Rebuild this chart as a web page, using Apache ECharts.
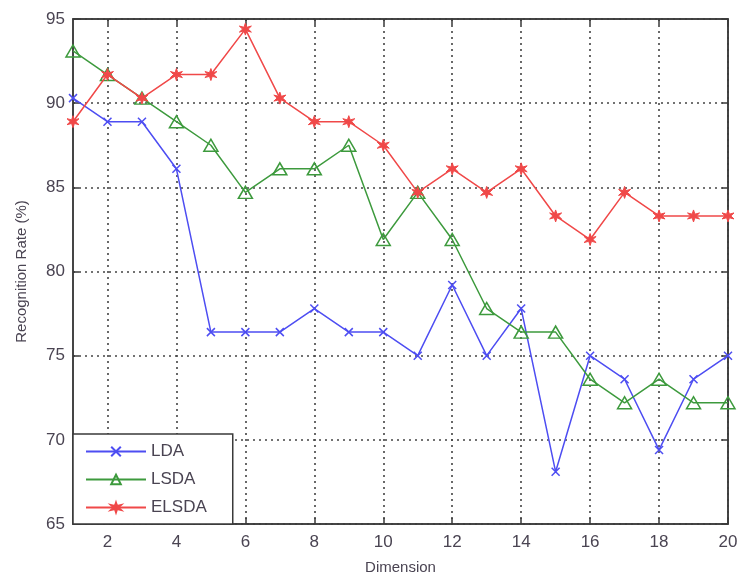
<!DOCTYPE html>
<html>
<head>
<meta charset="utf-8">
<script src="https://cdn.jsdelivr.net/npm/echarts@6/dist/echarts.min.js"></script>
<style>
  html, body { margin: 0; padding: 0; background: #fff; }
  #chart { width: 740px; height: 575px; }
</style>
</head>
<body>
<div id="chart"></div>
<script>
const dimensions = ["1", "2", "3", "4", "5", "6", "7", "8", "9", "10",
  "11", "12", "13", "14", "15", "16", "17", "18", "19", "20"];

const ldaValues = [90.3, 88.9, 88.9, 86.1, 76.4, 76.4, 76.4, 77.8, 76.4, 76.4,
  75.0, 79.2, 75.0, 77.8, 68.1, 75.0, 73.6, 69.4, 73.6, 75.0];
const lsdaValues = [93.1, 91.7, 90.3, 88.9, 87.5, 84.7, 86.1, 86.1, 87.5, 81.9,
  84.7, 81.9, 77.8, 76.4, 76.4, 73.6, 72.2, 73.6, 72.2, 72.2];
const elsdaValues = [88.9, 91.7, 90.3, 91.7, 91.7, 94.4, 90.3, 88.9, 88.9, 87.5,
  84.7, 86.1, 84.7, 86.1, 83.3, 81.9, 84.7, 83.3, 83.3, 83.3];

const Y_MIN = 65;
const Y_MAX = 95;
const Y_STEP = 5;

const BLUE = "#4d4df2";
const GREEN = "#3d9a3d";
const RED = "#f04848";
const FRAME = "#3a3a3a";
const TEXT = "#4a4452";

// only even dimensions get a label, tick and grid line
const evenOnly = (index) => index % 2 === 1;

const gridDots = { type: [2, 4], color: "#444", width: 1.6 };

const chart = echarts.init(document.getElementById("chart"), null, { renderer: "canvas" });

chart.setOption({
  backgroundColor: "#fff",
  animation: false,
  grid: {
    left: 73,
    right: 12,
    top: 19,
    bottom: 51,
    outerBoundsMode: "none",
    show: true,
    borderColor: FRAME,
    borderWidth: 1.5,
    backgroundColor: "transparent",
  },
  legend: {
    left: 73,
    top: 434,
    orient: "vertical",
    backgroundColor: "#fff",
    borderColor: FRAME,
    borderWidth: 1.5,
    padding: [9, 26, 8, 12],
    itemWidth: 60,
    itemHeight: 12,
    itemGap: 11,
    textStyle: { color: TEXT, fontSize: 17, fontFamily: "Liberation Sans" },
    data: ["LDA", "LSDA", "ELSDA"],
  },
  xAxis: [
    {
      type: "category",
      data: dimensions,
      boundaryGap: false,
      name: "Dimension",
      nameLocation: "middle",
      nameGap: 36,
      nameTextStyle: { color: TEXT, fontSize: 15, fontFamily: "Liberation Sans" },
      axisLine: { lineStyle: { color: FRAME, width: 1.5 } },
      axisTick: { inside: true, length: 6, interval: evenOnly, lineStyle: { color: FRAME, width: 1.5 } },
      axisLabel: {
        interval: evenOnly,
        margin: 10,
        color: TEXT,
        fontSize: 17,
        fontFamily: "Liberation Sans",
      },
      splitLine: { show: true, interval: evenOnly, lineStyle: gridDots },
    },
    {
      type: "category",
      data: dimensions,
      boundaryGap: false,
      position: "top",
      axisLine: { lineStyle: { color: FRAME, width: 1.5 } },
      axisTick: { inside: true, length: 6, interval: evenOnly, lineStyle: { color: FRAME, width: 1.5 } },
      axisLabel: { show: false },
      splitLine: { show: false },
    },
  ],
  yAxis: [
    {
      type: "value",
      min: Y_MIN,
      max: Y_MAX,
      interval: Y_STEP,
      name: "Recognition Rate (%)",
      nameLocation: "middle",
      nameGap: 44,
      nameTextStyle: { color: TEXT, fontSize: 15, fontFamily: "Liberation Sans" },
      axisLine: { show: true, lineStyle: { color: FRAME, width: 1.5 } },
      axisTick: { show: true, inside: true, length: 6, lineStyle: { color: FRAME, width: 1.5 } },
      axisLabel: { margin: 8, color: TEXT, fontSize: 17, fontFamily: "Liberation Sans" },
      splitLine: { show: true, lineStyle: gridDots },
    },
    {
      type: "value",
      min: Y_MIN,
      max: Y_MAX,
      interval: Y_STEP,
      position: "right",
      axisLine: { show: true, lineStyle: { color: FRAME, width: 1.5 } },
      axisTick: { show: true, inside: true, length: 6, lineStyle: { color: FRAME, width: 1.5 } },
      axisLabel: { show: false },
      splitLine: { show: false },
    },
  ],
  series: [
    {
      name: "LDA",
      type: "line",
      data: ldaValues,
      symbol: "path://M0,0L10,10M10,0L0,10",
      symbolSize: 8,
      color: BLUE,
      lineStyle: { color: BLUE, width: 1.5 },
      itemStyle: { color: BLUE, borderColor: BLUE, borderWidth: 1.5 },
      z: 3,
    },
    {
      name: "LSDA",
      type: "line",
      data: lsdaValues,
      symbol: "triangle",
      symbolSize: [14, 12],
      color: GREEN,
      lineStyle: { color: GREEN, width: 1.5 },
      itemStyle: { color: "rgba(255,255,255,0)", borderColor: GREEN, borderWidth: 1.5 },
      z: 4,
    },
    {
      name: "ELSDA",
      type: "line",
      data: elsdaValues,
      symbol: "path://M5,0L6,3.5L9.3,2.5L7,5L9.3,7.5L6,6.5L5,10L4,6.5L0.7,7.5L3,5L0.7,2.5L4,3.5Z",
      symbolSize: 12,
      color: RED,
      lineStyle: { color: RED, width: 1.5 },
      itemStyle: { color: RED, borderColor: RED, borderWidth: 1 },
      z: 5,
    },
  ],
});
</script>
</body>
</html>
